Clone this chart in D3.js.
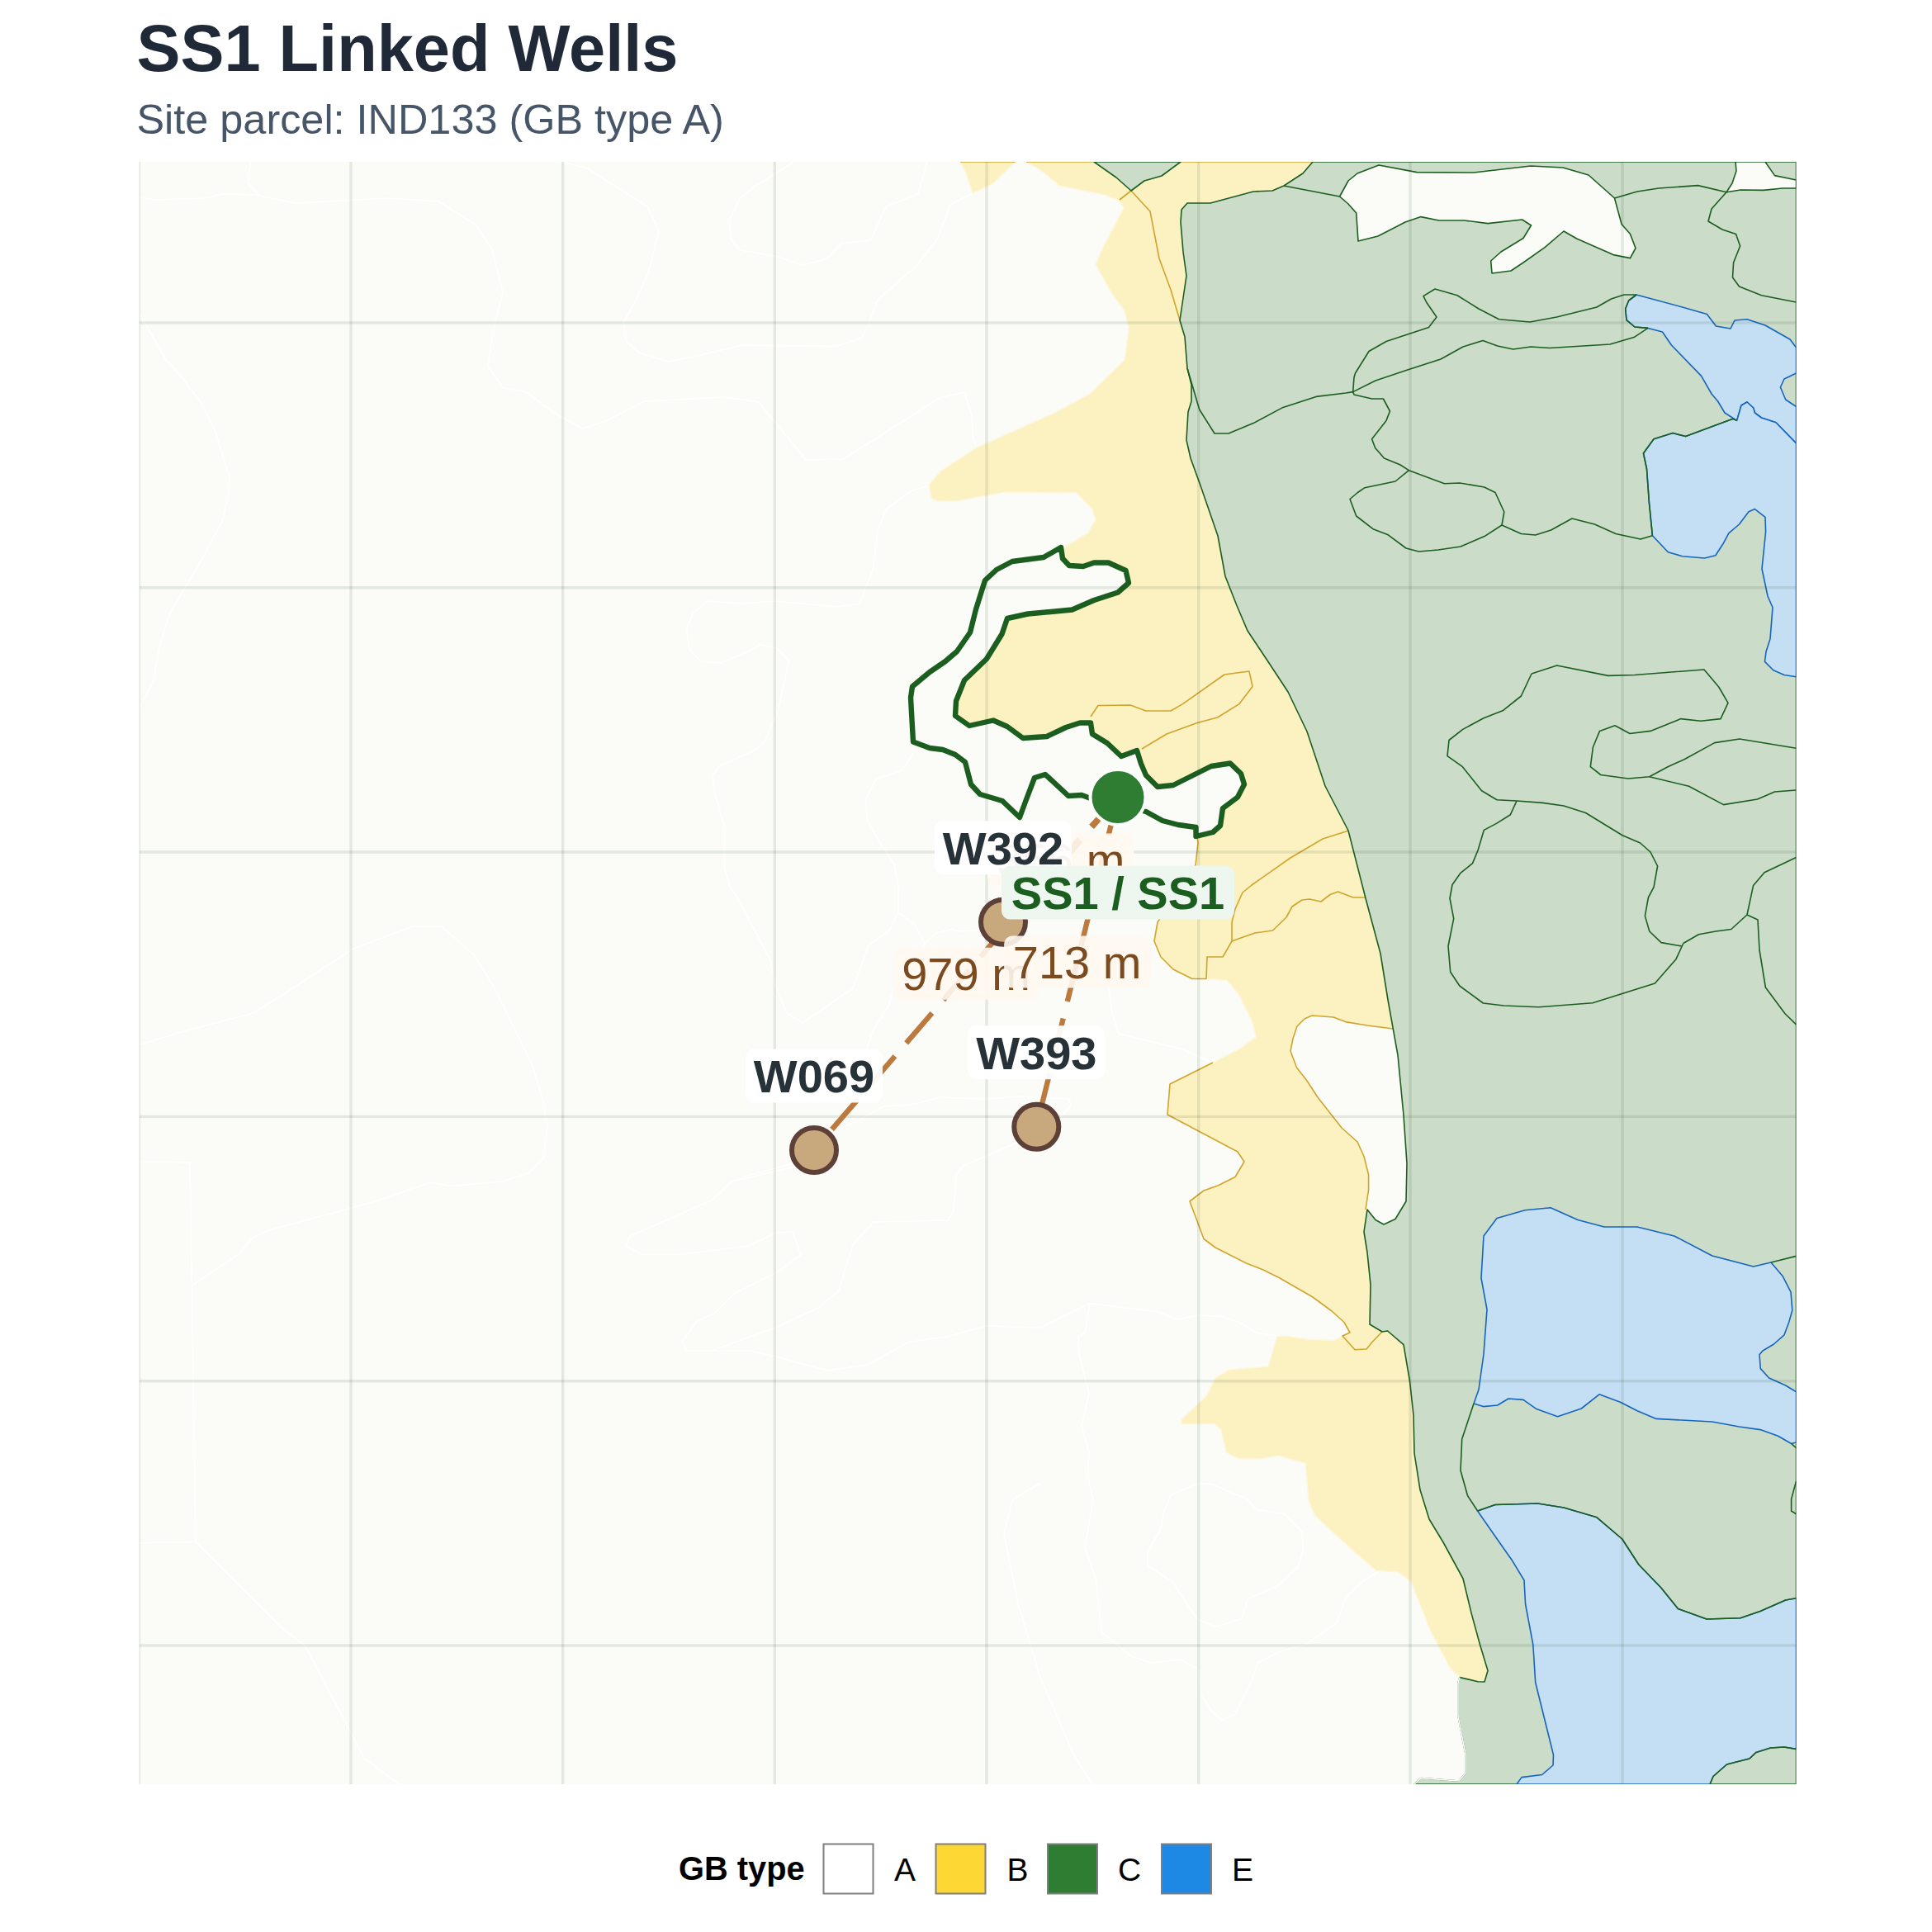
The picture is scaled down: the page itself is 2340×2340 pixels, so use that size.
<!DOCTYPE html>
<html>
<head>
<meta charset="utf-8">
<title>SS1 Linked Wells</title>
<script src="https://cdn.jsdelivr.net/npm/d3@7/dist/d3.min.js"></script>
<style>
  html, body { margin: 0; padding: 0; background: #fff; }
  text { font-family: "Liberation Sans", Arial, sans-serif; }
</style>
</head>
<body>
<svg id="chart" width="2340" height="2340"></svg>
<script>
var mapLeft = 168.5, mapRight = 2175.5, mapTop = 196, mapBottom = 2161;

var gridEast = [168.5, 425, 681.7, 938.3, 1195, 1451.7, 1708, 1965];
var gridSouth = [391, 711.7, 1032, 1352.4, 1672.8, 1993];

var gbTypes = ["A", "B", "C", "E"];
var gbSolid = ["#FFFFFF", "#FDD835", "#2E7D32", "#1E88E5"];
var gbFill = { A: "#FBFCF7", B: "#FCF1C1", C: "#CBDCC8", E: "#C4DFF3" };
var gbStroke = { A: "#FFFFFF", B: "#FDF7DF", C: "#1B5E20", E: "#1565C0" };
var goldLine = "#CFA52B";

// parcels, painted in this order
var yellowTop = [[1163,196],[1170,210],[1178,234],[1202,223],[1230,196]];
var yellowMain = [[1243,196],[1263,208],[1283,225],[1338,236],[1355,243],[1361,252],[1337,297],[1327,320],[1345,353],[1362,377],[1367,397],[1362,436],[1320,477],[1277,500],[1183,542],[1140,570],[1125,587],[1128,604],[1137,607],[1158,607],[1218,596],[1304,597],[1323,617],[1327,629],[1318,645],[1290,662],[1240,700],[1190,760],[1140,830],[1130,880],[1200,920],[1300,920],[1380,960],[1440,985],[1448.5,1002],[1451,1021],[1448,1048],[1402,1117],[1398,1140],[1406,1159],[1421,1174],[1444,1185.5],[1461,1185.5],[1486,1187.5],[1500,1204],[1517,1238],[1521,1256],[1500,1271],[1469,1287],[1417,1313],[1414,1350],[1499,1395],[1507,1407],[1496,1425.5],[1475,1436],[1458,1442],[1441,1455],[1458,1500.5],[1472,1511],[1509.5,1530],[1530,1538],[1550,1548],[1590,1571],[1613,1588],[1628,1601.5],[1635,1614],[1626,1618],[1615,1623.5],[1584,1622],[1558,1618],[1547,1618],[1536,1655],[1489,1659],[1472,1669],[1461,1691],[1431,1719],[1431,1725],[1472,1725],[1479,1732],[1485,1759],[1501,1767],[1527,1767],[1548,1763],[1581,1772.5],[1585,1818],[1593,1836],[1639,1878.6],[1667,1902.5],[1693,1904],[1709,1916],[1732,1974],[1756,2020],[1768,2031.6],[1850,2100],[1850,196]];
var islandInYellow = [[1687,1246],[1656,1242],[1629.5,1237.6],[1615,1232],[1589,1230],[1580,1234],[1571,1243],[1566,1258],[1563,1273],[1570.5,1293],[1583,1309],[1596,1329],[1625,1366],[1644,1383],[1652,1400.5],[1657.6,1423],[1657.6,1441],[1654,1465],[1666,1477.5],[1676,1483],[1690,1476.5],[1710,1455],[1710,1250]];
var greenMain = [[1590,196],[1578,210],[1555,225],[1541,231],[1518,232],[1466,246],[1438,246],[1431,254],[1430,269],[1433,305],[1437,334],[1429,388],[1435,408],[1438,446],[1443,466],[1443,486],[1439,499],[1437,533],[1442,555],[1455,591],[1475,649],[1484,698],[1498,733.5],[1511,764],[1535,800],[1560,838],[1583,886],[1605,952],[1633,1006],[1654,1088],[1672,1155],[1681,1211],[1693,1278],[1700,1351],[1704,1409],[1703,1455],[1690,1476.5],[1676,1483],[1666,1477.5],[1656,1465],[1652,1492],[1656,1517],[1660,1556],[1659,1604],[1674,1613],[1680.6,1612],[1700,1628.6],[1707.5,1673],[1712,1714],[1713,1760],[1720,1804.6],[1731,1840],[1748,1868],[1772,1912],[1782,1953.6],[1792.5,1992],[1802,2023.5],[1798,2037],[1790,2036.7],[1768,2031.6],[1766,2038],[1766,2078.6],[1775,2124.5],[1775,2147.4],[1767,2157],[1721,2153.6],[1713,2161],[2175.5,2161],[2175.5,196]];
var greenTop = [[1325,196],[1352,215],[1370,231],[1386,219],[1407,213],[1430,196]];
var islandNorth = [[1622.6,238],[1633,219],[1644,210],[1670,200],[1716,208.6],[1785,209],[1854,201],[1893,203],[1924,212],[1955.5,240],[1964,271.5],[1974.5,283.6],[1981,300.5],[1974.5,312.6],[1954,308.6],[1909.6,289],[1894,280],[1871,299.6],[1845,318],[1830,328],[1807,331],[1805.7,316],[1818,305],[1845,288.5],[1854.5,273],[1843.6,266],[1802,270.6],[1773.5,267],[1743,267],[1721,262.6],[1702,269],[1669,286],[1645,292],[1642.7,258],[1633,247]];
var islandCorner = [[2102,196],[2103,207],[2098,222],[2091,232.7],[2108,230],[2136,230.4],[2159,228],[2175.5,228],[2175.5,218],[2149.5,212.6],[2138,196]];
var blueNorth = [[1982,357],[2037.6,372],[2067.4,380.4],[2078.4,395],[2096,398],[2101,388],[2116,386.7],[2138,394],[2168,411],[2175.5,421],[2175.5,452],[2161,459],[2156.4,469],[2162.7,484],[2175.5,492.5],[2175.5,537],[2151,511.7],[2133.4,506],[2125.4,500],[2123.7,494],[2116,487],[2109,491],[2103.6,509.4],[2089,500],[2080.6,486],[2073,477],[2060.6,455.4],[2024.4,418],[2013.5,402],[1996,397.4],[1980,396],[1970,387.6],[1968.7,374],[1972.7,364]];
var blueEast = [[2099,507.2],[2041.6,528.6],[2026,524.6],[2003,531.8],[1990.5,549],[1994.5,568],[1997.4,608.5],[2001.4,648.7],[2020.4,668.8],[2037.6,673.7],[2064.6,676],[2077.8,672.8],[2087.5,657.7],[2094,645.6],[2106.5,635],[2118,619.7],[2125.4,616.6],[2138,626.4],[2138.6,644],[2134,689],[2141,722],[2147,735.8],[2144,773.7],[2139,789.3],[2137.5,801.4],[2147.8,811.7],[2161,817.5],[2175.5,819.7],[2175.5,537],[2151,511.7],[2133.4,506],[2125.4,500],[2123.7,494],[2116,487],[2109,491],[2103.6,509.4]];
var blueMiddle = [[1878,1462.8],[1847,1465.8],[1813,1475.5],[1797,1497],[1794,1548],[1801,1586],[1797,1640],[1791,1683],[1785,1700],[1796.5,1703.6],[1813.7,1702],[1827,1694],[1845,1695.4],[1861,1706.6],[1886.6,1715.8],[1915.3,1706],[1937,1688.8],[1963,1698.5],[1983,1708.7],[2006,1718.4],[2073.8,1722],[2106.5,1728],[2132,1731.6],[2153.5,1739.3],[2169.6,1748.5],[2175.5,1747],[2175.5,1685.7],[2162.7,1678],[2142.6,1669],[2132.3,1657.6],[2131,1640.8],[2135,1636],[2148.4,1628],[2161,1616.8],[2166.7,1601.5],[2170.8,1587],[2169,1564.8],[2159,1545.4],[2145,1529],[2123.7,1534],[2073.8,1521],[2027.8,1497],[1983,1486],[1943,1486],[1911,1477.5]];
var blueSouth = [[1789.6,1830],[1809.7,1859],[1832,1890.8],[1846,1914],[1847.6,1943],[1856.8,1991.8],[1859.7,2037.8],[1881.5,2125.5],[1881,2138],[1867.7,2149.5],[1843,2152.6],[1837,2161],[2071,2161],[2075,2151.5],[2091.5,2137],[2119,2130],[2127,2122.4],[2144.4,2117],[2161,2116],[2175.5,2118.4],[2175.5,1935.7],[2162.7,1938],[2132,1951.5],[2108,1959.7],[2067,1961],[2032.4,1948.5],[2011.8,1923],[1984.8,1895],[1964.7,1864],[1934,1837.8],[1894,1826],[1862.5,1821],[1811,1822.5]];

// boundary lines inside the green area
var greenLines = [
  [[1555,225],[1622.6,238]],
  [[1955.5,240],[1983,232],[2009,228],[2056.5,224.6],[2091,232.7]],
  [[2091,232.7],[2073,253],[2069,268],[2086,278],[2102.5,283.6],[2107.6,298],[2099.6,318],[2098.5,336],[2106.5,347],[2133.5,357.7],[2175.5,366]],
  [[1438,446],[1452.7,496],[1471,525],[1488,525],[1518,512.6],[1554,493.4],[1594,480.4],[1630,476],[1638.7,474.6],[1666,461],[1704.7,448],[1745,435],[1772,420],[1796,412.6],[1813.7,419],[1832.7,423],[1854,420],[1877,421.5],[1950,417],[1979,408.6],[1996,397.4]],
  [[1638.7,474.6],[1640,457],[1641.5,452],[1658,425.5],[1679,413.5],[1730.5,396.5],[1740,384],[1727.6,366],[1724,358.6],[1738,350],[1765,357.7],[1791,374],[1815.5,386.7],[1853,390],[1885.5,384],[1934,372],[1951.5,362],[1967,357],[1982,357]],
  [[1638.7,474.6],[1640,478],[1661.6,483],[1675.4,483],[1683.4,498],[1679,509.4],[1661.6,531.8],[1665.6,542.5],[1676.5,555],[1696,563],[1706.4,569.7],[1749.4,585.8],[1768,585],[1797.7,590],[1811,596.5],[1821.8,620],[1819,636],[1842.4,646.5],[1859.7,648],[1878.6,642],[1904,628],[1931.4,635],[1957,646.5],[1987,653],[2001.4,648.7]],
  [[1706.4,569.7],[1690,583],[1653,590.7],[1644.4,596.5],[1635,604.5],[1642.7,625],[1663,640.7],[1680.6,647.4],[1703,664],[1718.4,668],[1742,666],[1769,662],[1798,649.6],[1819,636]],
  [[1982,357],[1972.7,364],[1968.7,374],[1970,387.6],[1980,396],[1996,397.4]],
  [[2103.6,509.4],[2099,507.2],[2041.6,528.6],[2026,524.6],[2003,531.8],[1990.5,549],[1994.5,568],[1997.4,608.5],[2001.4,648.7]],
  [[1855,816],[1885.7,806],[1947.7,818.4],[1980,817.5],[2064,811],[2081.7,832],[2093,851.4],[2084,870.6],[2060,873.3],[2035.7,870.6],[1999,885.4],[1974,888.5],[1956,878.7],[1937.5,885.4],[1929.4,905],[1926.3,928.7],[1938.8,938.5],[1972,943],[1997.7,940.7],[2020,928.7],[2040,919.7],[2076.7,899.6],[2107,895],[2175.5,906.3]],
  [[1997.7,940.7],[2045.5,952.3],[2087.5,974.6],[2128.5,968],[2149.5,959],[2175.5,957]],
  [[1855,816],[1842.4,843],[1820,860.8],[1797,869.7],[1771.4,883.6],[1755,896.5],[1753,915.7],[1771.4,928.7],[1794.6,957.7],[1813,968.8],[1837,970],[1868.3,972.4],[1894,976],[1920.5,984.5],[1965,1011.7],[1986.6,1021],[1999,1032],[2007.6,1049],[2003,1074.6],[1996.4,1087],[1992.4,1109.4],[1997.8,1128],[2012,1141.6],[2037,1146]],
  [[1837,970],[1829.4,986.7],[1812.5,997.4],[1797.3,1005.4],[1790,1030],[1783.5,1045.6],[1768.7,1057.7],[1759,1071.5],[1756,1088],[1760.7,1112.6],[1754,1146],[1756.7,1177.3],[1767.8,1194],[1796.4,1215],[1821.4,1218],[1863.8,1219.7],[1929,1214.8],[2004.4,1191],[2030,1161.7],[2038.8,1142.5]],
  [[2038.8,1142.5],[2057.5,1131.8],[2078,1128],[2096.8,1125.5],[2116,1108],[2123.6,1072.4],[2137,1056.8],[2175.5,1038.5]],
  [[2116,1108],[2129,1114],[2131,1150.5],[2138.4,1196],[2162,1227.7],[2175.5,1241]],
  [[2145,1529],[2175.5,1521.4]],
  [[1785,1700],[1770.7,1743],[1769,1781],[1777.6,1811.7],[1789.6,1830]],
  [[1789.6,1830],[1811,1822.5],[1862.5,1821],[1894,1826],[1934,1837.8],[1964.7,1864],[1984.8,1895],[2011.8,1923],[2032.4,1948.5],[2067,1961],[2108,1959.7],[2132,1951.5],[2162.7,1938],[2175.5,1935.7]],
  [[2071,2161],[2075,2151.5],[2091.5,2137],[2119,2130],[2127,2122.4],[2144.4,2117],[2161,2116],[2175.5,2118.4]],
  [[2169.6,1748.5],[2175.5,1753.6]],
  [[2175.5,1794],[2169.6,1815.8],[2169.6,1830],[2175.5,1833.7]]
];

// gold boundaries between B parcels
var goldLines = [
  [[1163,196],[1230,196]],
  [[1243,196],[1590,196]],
  [[1356,242],[1370,231],[1393,256],[1404,313],[1418,351],[1429,388]],
  [[1321,868],[1330,854.5],[1369,854],[1388,861],[1418,861],[1432.5,852.6],[1483,817],[1513,813],[1517,831.5],[1501,852.6],[1474.5,869],[1450,875.5],[1413,889],[1383,907]],
  [[1633.5,1006],[1602,1016],[1563,1039],[1516,1072],[1505,1081],[1496,1101],[1492,1117],[1492,1140],[1481,1159],[1462,1159],[1461,1185.5],[1444,1185.5],[1421,1174],[1406,1159],[1398,1140],[1402,1117],[1448,1048],[1451,1021],[1448.5,1002]],
  [[1654.5,1087],[1639,1087],[1620.5,1080],[1611,1083.5],[1600,1092],[1586,1089],[1577,1090],[1565,1098],[1558,1111],[1541.5,1127],[1520,1130],[1500,1137],[1492,1140]],
  [[1469,1287],[1417,1313],[1414,1350],[1499,1395],[1507,1407],[1496,1425.5],[1475,1436],[1458,1442],[1441,1455],[1458,1500.5],[1472,1511],[1509.5,1530],[1530,1538],[1550,1548],[1590,1571],[1613,1588],[1628,1601.5],[1635,1614],[1626,1618],[1641,1634.7],[1655,1634],[1662,1625.5],[1674,1613]],
  [[1687,1246],[1656,1242],[1629.5,1237.6],[1615,1232],[1589,1230],[1580,1234],[1571,1243],[1566,1258],[1563,1273],[1570.5,1293],[1583,1309],[1596,1329],[1625,1366],[1644,1383],[1652,1400.5],[1657.6,1423],[1657.6,1441],[1654,1465]]
];

// white edge where the green area meets type A in the south
var whiteEdge = [[1768,2031.6],[1766,2038],[1766,2078.6],[1775,2124.5],[1775,2147.4],[1767,2157],[1721,2153.6],[1713,2161]];

// faint type A parcel boundaries
var whiteLines = [
  [[168,238],[186,242],[249,240],[269,235],[309,236],[358,246],[470,240],[532,244],[577,273],[596,302],[609,354],[597,402],[591,444],[609.5,470],[636,474],[671,500],[705,519],[734,510],[780,486],[877.5,481],[919,487],[976,557],[1021,556],[1050,538],[1138,482],[1168,475],[1177,503],[1178,528],[1183,542]],
  [[303.5,196],[300,221.6],[315,238]],
  [[682,196],[711,204],[784,250],[798,279],[786,328],[771,362],[755,391],[759,414],[774,427],[809,438],[849,430],[899,418],[1012,419.6],[1044,409],[1052,392],[1063,363],[1110,322],[1135,290],[1151,248],[1178,234]],
  [[961,196],[935,213],[912,227],[896,240.5],[883,267.5],[885,289],[896.5,303],[941,310.5],[972,321],[1001,313.4],[1019,295],[1055,290.5],[1073,250],[1112,235],[1123,196]],
  [[168,378],[200,434],[220,457],[243,487],[259,518],[278,577.5],[276.5,597.5],[270,629],[246,675],[205,744],[193,784],[186,824],[168,859]],
  [[1125,588],[1103,595],[1073,617],[1063,643],[1057,690],[1041,731],[1015,735],[938,728],[897.6,731],[857,728],[839,743],[831.6,761],[834.5,786],[849,801],[872,803],[898,793],[920.6,781],[940.6,785],[955.6,800],[942,861.6],[926,899],[912,910],[872,927.6],[863,939],[866,962],[877.5,1002],[877.5,1051],[884,1074],[895,1090],[933,1163],[940,1197],[953,1227],[972,1239],[1033,1197],[1052,1145],[1077,1127],[1088,1105],[1088,1073],[1083,1047],[1060,1011],[1050,991],[1048.6,968],[1061,944],[1092,933],[1103,917.6],[1107,906]],
  [[1088,1105],[1108,1120],[1120,1143],[1133,1130],[1152,1126],[1163,1128],[1187,1127]],
  [[1120,1143],[1082,1197],[1077,1217],[1057,1248],[1050,1270]],
  [[1343,1197],[1347,1227],[1355,1252],[1400,1263],[1430,1270],[1469,1287]],
  [[900,1425],[958,1410],[1010,1370],[1040,1357],[1070,1340],[1103,1338],[1138,1329],[1195,1331],[1233,1328],[1295,1331],[1297,1339],[1283,1355],[1233,1383],[1167,1412],[1158,1423],[1155,1467],[1148,1478],[1058,1480],[1033,1507.4],[1016,1563],[991,1584],[939,1608],[861.5,1636]],
  [[168,1265.6],[223,1249],[307,1227],[353,1198],[427,1149.5],[500,1122],[535,1122],[574,1156.5],[598,1195],[644,1288.5],[657,1330],[663,1365],[658,1403],[640.5,1420.5],[609,1431],[546,1436.5],[521,1432],[455,1455],[363,1480],[325,1490],[304,1500.5],[290,1518],[234,1556]],
  [[168,1406.6],[230,1408],[234,1671],[237,1867.4],[168,1868.8]],
  [[237,1867.4],[339,1969.6],[370,1994],[423,2094.7],[441,2129.5],[483,2161]],
  [[960,1413.6],[886,1431],[861.5,1454],[763,1497],[758,1509.5],[777,1519],[826,1519],[907,1509],[939,1493.5],[960,1491.4],[970,1520],[939,1542],[889.6,1566.5],[865,1591],[844,1600],[826,1625.6],[832,1636],[861.5,1636],[907,1636],[939,1643],[1002,1660],[1051,1653],[1100,1625.6],[1149,1618.6],[1195,1606],[1260,1608],[1320,1578.6],[1403,1589],[1426,1598],[1452,1593],[1478,1594],[1501,1601.5],[1521,1614],[1547,1618]],
  [[1320,1578.6],[1314,1614],[1306,1619],[1307,1640],[1319,1688],[1310,1726.5],[1319,1760],[1317,1787],[1324,1816],[1314,1874.5],[1327.5,1913],[1334,1976.5],[1372,2007],[1395,2014],[1429,2010],[1452,2022.4],[1455,2053],[1466.5,2071],[1480,2083.6],[1496,2076],[1515,2038],[1523,2014],[1552.6,1999.5],[1581,1992],[1618.6,1966],[1630,1935.7],[1650,1915],[1670,1903.6]],
  [[1409,1833.7],[1418,1810.7],[1452,1796.4],[1469,1798],[1498,1810.7],[1509.5,1815],[1522,1828.6],[1555.4,1833.7],[1577,1855],[1578,1877],[1572.7,1897.4],[1547,1921.4],[1511,1936.7],[1504,1961],[1472,1970],[1450,1961],[1420.5,1916],[1390,1896],[1390,1879.6],[1406,1851.5],[1409,1833.7]],
  [[1260,1796],[1226,1817],[1216,1858],[1233,1942],[1260,2032],[1300,2124.5],[1323,2161]]
];

var siteParcel = [[1285,663],[1264,675],[1226,680],[1207,690],[1193,703],[1182,738],[1175,766],[1159,789],[1145,801],[1126,814],[1105,831.5],[1103,845],[1106,898.5],[1126,906],[1142,908],[1157,914],[1169,923],[1176,950],[1187,962],[1214,970],[1235,990],[1242,971],[1253,942],[1266,938],[1294,964],[1310,963],[1321,967],[1354,975],[1388,983],[1408,994],[1427,999],[1448.5,1002],[1448.5,1013],[1469,1008],[1478,1000],[1481,979],[1499,965.5],[1507,950],[1503,937],[1490,924.5],[1467,928],[1421,951],[1402,953],[1388,939],[1382,925],[1377,909],[1358,916],[1341,900],[1323,889],[1321,875.5],[1308,875.5],[1291,881],[1268,892],[1239,894],[1220,880],[1203,872.5],[1174,879],[1157,867],[1158,849],[1168,824],[1195,798],[1213.5,768],[1220,749],[1245,743.5],[1298.5,738.5],[1325,727],[1354,717.5],[1367,706],[1363.5,691],[1342.5,681.5],[1325,681.5],[1312,686],[1295,685],[1287,676.5]];

// site and wells
var sitePoint = [1354, 965.5];
var siteName = "SS1 / SS1";
var wellNames = ["W069", "W392", "W393"];
var wellEast = [986, 1215, 1255.3];
var wellSouth = [1393, 1116.7, 1364.7];
var wellDistance = [979, 356, 713];

var svg = d3.select("#chart");
var x = d3.scaleLinear().domain([mapLeft, mapRight]).range([168.5, 2175.5]);
var y = d3.scaleLinear().domain([mapTop, mapBottom]).range([196, 2161]);
var pathOf = d3.line().x(d => x(d[0])).y(d => y(d[1]));
var ringOf = d3.line().x(d => x(d[0])).y(d => y(d[1])).curve(d3.curveLinearClosed);

svg.append("defs").append("clipPath").attr("id", "mapClip").append("rect")
    .attr("x", x(mapLeft)).attr("y", y(mapTop))
    .attr("width", x(mapRight) - x(mapLeft)).attr("height", y(mapBottom) - y(mapTop));

// Title
svg.append("text").attr("x", 165.5).attr("y", 86)
    .attr("font-size", 79.4).attr("font-weight", "bold").attr("fill", "#1F2937")
    .text("SS1 Linked Wells");
svg.append("text").attr("x", 165.5).attr("y", 162)
    .attr("font-size", 50.4).attr("fill", "#475569")
    .text("Site parcel: IND133 (GB type A)");

// Map parcels
var map = svg.append("g").attr("clip-path", "url(#mapClip)");

map.append("rect")
    .attr("x", x(mapLeft)).attr("y", y(mapTop))
    .attr("width", x(mapRight) - x(mapLeft)).attr("height", y(mapBottom) - y(mapTop))
    .attr("fill", gbFill.A);

function drawRing(points, type, strokeColor, hasStroke) {
    map.append("path").attr("d", ringOf(points))
        .attr("fill", gbFill[type])
        .attr("stroke", hasStroke === false ? "none" : strokeColor)
        .attr("stroke-width", 1.6)
        .attr("stroke-linejoin", "round");
}

function drawLines(lines, color, width) {
    map.append("g").selectAll("path").data(lines).join("path")
        .attr("d", pathOf)
        .attr("fill", "none")
        .attr("stroke", color)
        .attr("stroke-width", width)
        .attr("stroke-linejoin", "round");
}

drawLines(whiteLines, gbStroke.A, 1.6);
drawRing(yellowTop, "B", gbStroke.B);
drawRing(yellowMain, "B", gbStroke.B);
drawRing(islandInYellow, "A", gbStroke.A, false);
drawLines(goldLines, goldLine, 1.6);
drawRing(greenMain, "C", gbStroke.C);
drawRing(greenTop, "C", gbStroke.C);
drawRing(islandNorth, "A", gbStroke.C);
drawRing(islandCorner, "A", gbStroke.C);
drawRing(blueNorth, "E", gbStroke.E);
drawRing(blueEast, "E", gbStroke.E);
drawRing(blueMiddle, "E", gbStroke.E);
drawRing(blueSouth, "E", gbStroke.E);
drawLines(greenLines, gbStroke.C, 1.6);
drawLines([whiteEdge], gbStroke.A, 1.6);

// Site parcel keeps type A fill, with heavy outline
map.append("path").attr("d", ringOf(siteParcel))
    .attr("fill", gbFill.A)
    .attr("stroke", gbStroke.C)
    .attr("stroke-width", 6.4)
    .attr("stroke-linejoin", "round");

// Graticule sits over the pale fills
var gridColor = "rgba(30,70,40,0.105)";
map.append("g").selectAll("line").data(gridEast).join("line")
    .attr("x1", d => x(d)).attr("x2", d => x(d))
    .attr("y1", y(mapTop)).attr("y2", y(mapBottom))
    .attr("stroke", gridColor).attr("stroke-width", 3.4);
map.append("g").selectAll("line").data(gridSouth).join("line")
    .attr("x1", x(mapLeft)).attr("x2", x(mapRight))
    .attr("y1", d => y(d)).attr("y2", d => y(d))
    .attr("stroke", gridColor).attr("stroke-width", 3.4);

// Links from site to wells
var marks = svg.append("g");
marks.selectAll("line.link").data(wellNames).join("line")
    .attr("class", "link")
    .attr("x1", x(sitePoint[0])).attr("y1", y(sitePoint[1]))
    .attr("x2", (d, i) => x(wellEast[i])).attr("y2", (d, i) => y(wellSouth[i]))
    .attr("stroke", "#BC7A3F").attr("stroke-width", 6.4)
    .attr("stroke-dasharray", "48,21");

marks.selectAll("circle.well").data(wellNames).join("circle")
    .attr("class", "well")
    .attr("cx", (d, i) => x(wellEast[i])).attr("cy", (d, i) => y(wellSouth[i]))
    .attr("r", 27)
    .attr("fill", "#C8A97E").attr("stroke", "#5D4037").attr("stroke-width", 6);

marks.append("circle")
    .attr("cx", x(sitePoint[0])).attr("cy", y(sitePoint[1]))
    .attr("r", 33.5)
    .attr("fill", "#2E7D32").attr("stroke", "#FFFFFF").attr("stroke-width", 4);

// Text with rounded box behind it
function boxedText(cx, cy, label, w, h, boxFill, textFill, weight) {
    var g = marks.append("g");
    g.append("rect")
        .attr("x", cx - w / 2).attr("y", cy - h / 2)
        .attr("width", w).attr("height", h).attr("rx", 10)
        .attr("fill", boxFill);
    g.append("text")
        .attr("x", cx).attr("y", cy + 20)
        .attr("text-anchor", "middle")
        .attr("font-size", 56).attr("font-weight", weight)
        .attr("fill", textFill)
        .text(label);
}

// Distance labels sit at mid link
wellNames.forEach(function (name, i) {
    boxedText(x((sitePoint[0] + wellEast[i]) / 2), y((sitePoint[1] + wellSouth[i]) / 2),
        wellDistance[i] + " m", 177, 63, "rgba(255,248,241,0.9)", "#7B4A1E", "normal");
});

wellNames.forEach(function (name, i) {
    boxedText(x(wellEast[i]), y(wellSouth[i]) - 90, name, 166, 65, "rgba(255,255,255,0.94)", "#263238", "bold");
});

boxedText(x(sitePoint[0]), y(sitePoint[1]) + 115.5, siteName, 282, 65, "#EDF7EF", "#1B5E20", "bold");

// Legend
var legendX = [997.5, 1133.5, 1269, 1407];
var legendLabelX = [1083, 1219.5, 1354, 1492];
var legend = svg.append("g");
legend.append("text").attr("x", 822).attr("y", 2277)
    .attr("font-size", 39.8).attr("font-weight", "bold").attr("fill", "#000")
    .text("GB type");
legend.selectAll("rect").data(gbTypes).join("rect")
    .attr("x", (d, i) => legendX[i]).attr("y", 2233.5)
    .attr("width", 60).attr("height", 60)
    .attr("fill", (d, i) => gbSolid[i])
    .attr("stroke", "#7F7F7F").attr("stroke-width", 2);
legend.selectAll("text.key").data(gbTypes).join("text")
    .attr("class", "key")
    .attr("x", (d, i) => legendLabelX[i]).attr("y", 2277.5)
    .attr("font-size", 39).attr("fill", "#000")
    .text(d => d);
</script>
</body>
</html>
